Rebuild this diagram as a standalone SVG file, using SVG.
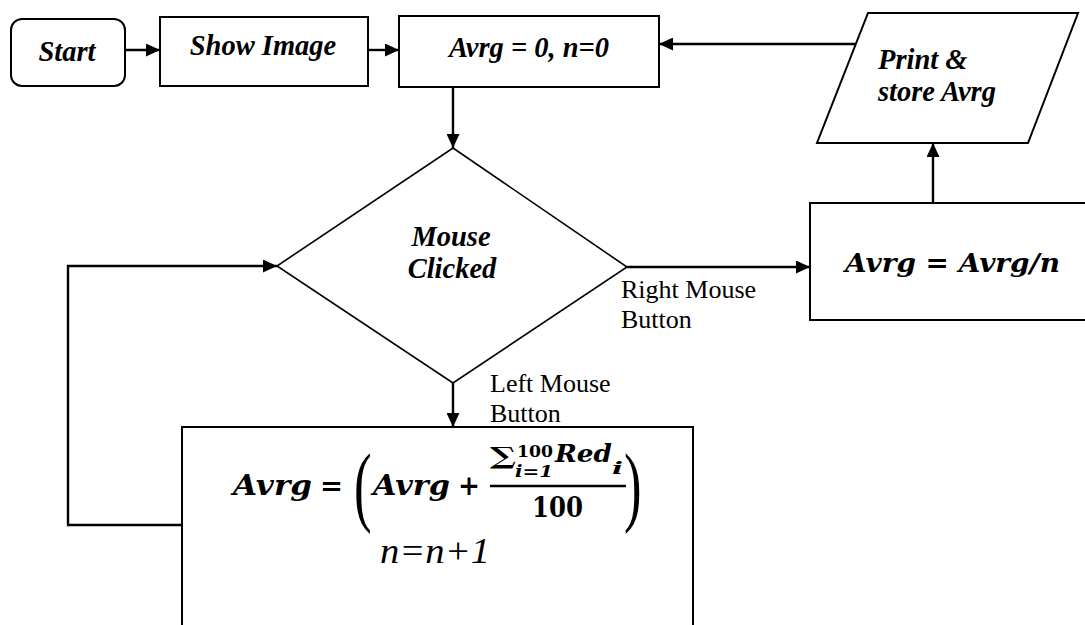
<svg xmlns="http://www.w3.org/2000/svg" width="1085" height="625" viewBox="0 0 1085 625">
  <defs>
    <marker id="arrow" markerUnits="userSpaceOnUse" markerWidth="15" markerHeight="13" refX="14" refY="6.5" orient="auto">
      <path d="M0,0 L14,6.5 L0,13 z" fill="#000"/>
    </marker>
    <style>
      .shape { fill: #fff; stroke: #000; stroke-width: 2; }
      .thin { fill: #fff; stroke: #000; stroke-width: 1.6; }
      .wire { fill: none; stroke: #000; stroke-width: 2.4; marker-end: url(#arrow); }
      .node { font-family: "Liberation Serif", "Times New Roman", serif; font-weight: bold; font-style: italic; font-size: 28.5px; fill: #000; }
      .label { font-family: "Liberation Serif", "Times New Roman", serif; font-size: 26px; fill: #000; }
      .plain { font-family: "Liberation Serif", "Times New Roman", serif; font-style: italic; fill: #000; }
      .math { font-family: "DejaVu Serif", serif; font-weight: bold; font-style: italic; fill: #000; }
      .mathup { font-family: "DejaVu Serif", serif; font-weight: bold; fill: #000; }
      .delim { font-family: "Liberation Serif", serif; font-weight: normal; fill: #000; }
    </style>
  </defs>

  <rect width="1085" height="625" fill="#fff"/>

  <!-- connectors -->
  <g id="connectors">
    <path class="wire" d="M125,50 L160,50"/>
    <path class="wire" d="M368,50 L399,50"/>
    <path class="wire" d="M453,87 L453,148"/>
    <path class="wire" d="M856,44 L659,44"/>
    <path class="wire" d="M933,203 L933,143"/>
    <path class="wire" d="M627,267 L810,267"/>
    <path class="wire" d="M453,383 L453,427"/>
    <path class="wire" d="M182,525 L68,525 L68,266 L277,266"/>
    <text class="label" x="621" y="298">Right Mouse</text>
    <text class="label" x="621" y="328">Button</text>
    <text class="label" x="490" y="392">Left Mouse</text>
    <text class="label" x="490" y="422">Button</text>
  </g>

  <g id="start">
    <rect class="shape" x="11" y="19" width="114" height="67" rx="11"/>
    <text class="node" x="67" y="61" text-anchor="middle">Start</text>
  </g>

  <g id="show-image">
    <rect class="shape" x="160" y="17" width="208" height="69"/>
    <text class="node" x="263" y="55" text-anchor="middle">Show Image</text>
  </g>

  <g id="init">
    <rect class="shape" x="399" y="16" width="260" height="71"/>
    <text class="node" x="529" y="57" text-anchor="middle">Avrg = 0, n=0</text>
  </g>

  <g id="mouse-clicked">
    <polygon class="thin" points="453,148 627,267 453,383 277,266"/>
    <text class="node" x="451" y="246" text-anchor="middle">Mouse</text>
    <text class="node" x="452" y="278" text-anchor="middle">Clicked</text>
  </g>

  <g id="print-store">
    <polygon class="shape" points="868,13 1078,13 1028,143 817,143"/>
    <text class="node" x="878" y="69" font-size="27">Print &amp;</text>
    <text class="node" x="878" y="101" font-size="27">store Avrg</text>
  </g>

  <g id="divide">
    <rect class="shape" x="810" y="203" width="280" height="117"/>
    <text class="math" x="845" y="272" font-size="26" textLength="215" lengthAdjust="spacingAndGlyphs">Avrg = Avrg/n</text>
  </g>

  <g id="accumulate">
    <rect class="shape" x="182" y="427" width="511" height="220"/>
    <!-- Avrg = ( Avrg + sum/100 ) -->
    <text class="math" x="233" y="495" font-size="28" textLength="79" lengthAdjust="spacingAndGlyphs">Avrg</text>
    <text class="mathup" x="320" y="495" font-size="28" textLength="23" lengthAdjust="spacingAndGlyphs">=</text>
    <text class="delim" transform="translate(354,515) scale(0.6,1)" font-size="88">(</text>
    <text class="math" x="373" y="495" font-size="28" textLength="77" lengthAdjust="spacingAndGlyphs">Avrg</text>
    <text class="mathup" x="458" y="495" font-size="28" textLength="22" lengthAdjust="spacingAndGlyphs">+</text>
    <text class="mathup" x="490" y="464" font-size="24" textLength="26" lengthAdjust="spacingAndGlyphs">∑</text>
    <text class="mathup" x="517" y="457" font-size="17" textLength="36" lengthAdjust="spacingAndGlyphs">100</text>
    <text class="math" x="515" y="477" font-size="16" textLength="38" lengthAdjust="spacingAndGlyphs">i=1</text>
    <text class="math" x="555" y="462" font-size="24" textLength="57" lengthAdjust="spacingAndGlyphs">Red</text>
    <text class="math" x="612" y="474" font-size="16" textLength="11" lengthAdjust="spacingAndGlyphs">i</text>
    <line x1="490" y1="486" x2="626" y2="486" stroke="#000" stroke-width="2.4"/>
    <text class="mathup" x="532" y="517" font-size="28" textLength="51" lengthAdjust="spacingAndGlyphs">100</text>
    <text class="delim" transform="translate(624,515) scale(0.6,1)" font-size="88">)</text>
    <!-- n = n + 1 -->
    <text class="plain" x="380" y="563" font-size="36" textLength="110" lengthAdjust="spacingAndGlyphs">n=n+1</text>
  </g>
</svg>
